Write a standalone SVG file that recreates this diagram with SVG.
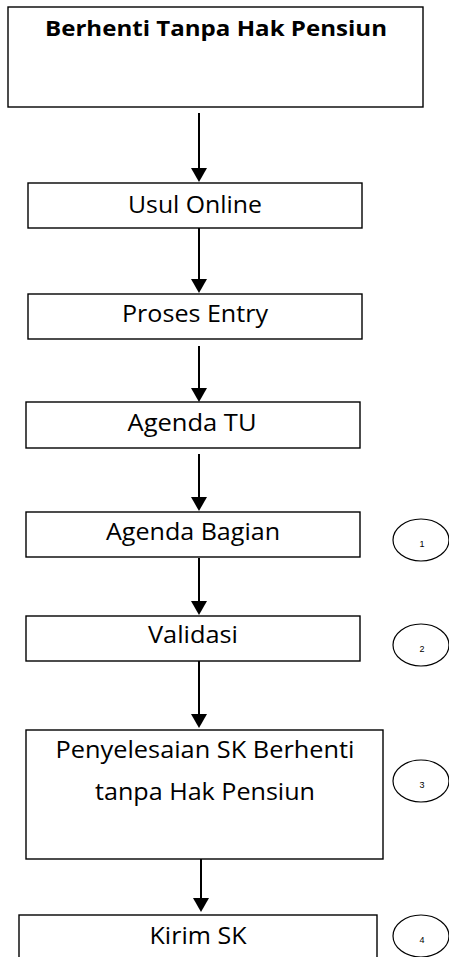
<svg xmlns="http://www.w3.org/2000/svg" width="449" height="957" viewBox="0 0 449 957">
<style>
.box{fill:#fff;stroke:#000;stroke-width:1.4}
.lbl{font-family:"Open Sans","Liberation Sans",sans-serif;font-size:23px;fill:#000;text-anchor:middle}
.title{font-weight:bold;font-size:21px}
.conn{stroke:#000;stroke-width:2;fill:none}
.circ{fill:#fff;stroke:#000;stroke-width:1.2}
.num{font-family:"Liberation Sans",sans-serif;font-size:9px;fill:#000;text-anchor:middle}
</style>
<g id="connectors">
<line class="conn" x1="199" y1="113" x2="199" y2="168"/><path d="M191,168 L207,168 L199,182 Z"/>
<line class="conn" x1="199" y1="228" x2="199" y2="279"/><path d="M191,279 L207,279 L199,293 Z"/>
<line class="conn" x1="199" y1="346" x2="199" y2="388"/><path d="M191,388 L207,388 L199,402 Z"/>
<line class="conn" x1="199" y1="454" x2="199" y2="497"/><path d="M191,497 L207,497 L199,511 Z"/>
<line class="conn" x1="199" y1="558" x2="199" y2="601"/><path d="M191,601 L207,601 L199,615 Z"/>
<line class="conn" x1="199" y1="661" x2="199" y2="714"/><path d="M191,714 L207,714 L199,728 Z"/>
<line class="conn" x1="201" y1="855" x2="201" y2="898"/><path d="M193,898 L209,898 L201,912 Z"/>
</g>
<g id="n-title">
<rect class="box" x="8" y="7" width="415" height="100"/>
<text class="lbl title" x="216" y="36" textLength="342" lengthAdjust="spacingAndGlyphs">Berhenti Tanpa Hak Pensiun</text>
</g>
<g id="n-usul">
<rect class="box" x="28" y="183" width="334" height="45"/>
<text class="lbl" x="195" y="213" textLength="134" lengthAdjust="spacingAndGlyphs">Usul Online</text>
</g>
<g id="n-entry">
<rect class="box" x="28" y="294" width="334" height="45"/>
<text class="lbl" x="195" y="322" textLength="146" lengthAdjust="spacingAndGlyphs">Proses Entry</text>
</g>
<g id="n-tu">
<rect class="box" x="26" y="402" width="334" height="46"/>
<text class="lbl" x="192" y="431" textLength="129" lengthAdjust="spacingAndGlyphs">Agenda TU</text>
</g>
<g id="n-bagian">
<rect class="box" x="26" y="512" width="334" height="45"/>
<text class="lbl" x="193" y="540" textLength="174" lengthAdjust="spacingAndGlyphs">Agenda Bagian</text>
</g>
<g id="n-validasi">
<rect class="box" x="26" y="616" width="334" height="45"/>
<text class="lbl" x="193" y="643" textLength="90" lengthAdjust="spacingAndGlyphs">Validasi</text>
</g>
<g id="n-penyelesaian">
<rect class="box" x="26" y="730" width="357" height="129"/>
<text class="lbl" x="205" y="758" textLength="299" lengthAdjust="spacingAndGlyphs">Penyelesaian SK Berhenti</text>
<text class="lbl" x="205" y="800" textLength="220" lengthAdjust="spacingAndGlyphs">tanpa Hak Pensiun</text>
</g>
<g id="n-kirim">
<rect class="box" x="19" y="915" width="358" height="60"/>
<text class="lbl" x="198" y="944" textLength="97" lengthAdjust="spacingAndGlyphs">Kirim SK</text>
</g>
<g id="c1">
<ellipse class="circ" cx="421" cy="540" rx="28" ry="21"/>
<text class="num" x="422" y="547">1</text>
</g>
<g id="c2">
<ellipse class="circ" cx="421" cy="645" rx="28" ry="21"/>
<text class="num" x="422" y="652">2</text>
</g>
<g id="c3">
<ellipse class="circ" cx="421" cy="781" rx="28" ry="21"/>
<text class="num" x="422" y="788">3</text>
</g>
<g id="c4">
<ellipse class="circ" cx="421" cy="936" rx="28" ry="21"/>
<text class="num" x="422" y="943">4</text>
</g>
</svg>
